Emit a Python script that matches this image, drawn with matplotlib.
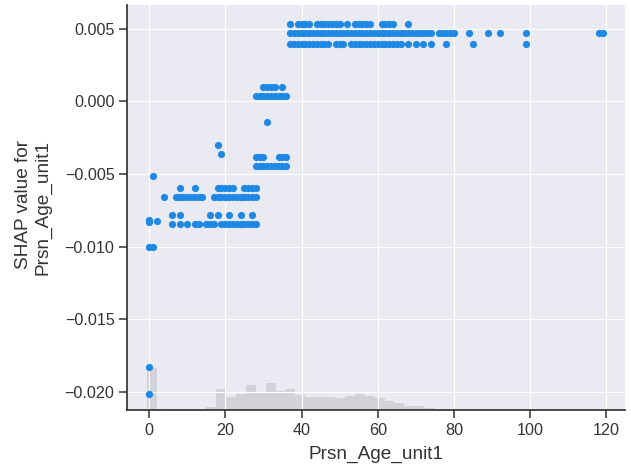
import numpy as np
import matplotlib
matplotlib.use("Agg")
import matplotlib.pyplot as plt
import seaborn as sns

feature = "Prsn_Age_unit1"
dot_color = "#1E88E5"
axis_color = "#333333"

# each row of dots: one shap value and the ages that sit on it
level_shap = [0.00533, 0.00471, 0.00398, 0.00101, 0.00039, -0.00384, -0.00446,
              -0.00598, -0.00660, -0.00781, -0.00843]
level_ages = [
    [37, 39, 40, 41, 42, 44, 45, 46, 47, 48, 49, 50, 52, 54, 55, 56, 57, 58,
     61, 62, 63, 64, 68],
    [37, 38, 39, 40, 41, 42, 43, 44, 45, 46, 47, 48, 49, 50, 51, 52, 53, 54,
     55, 56, 57, 58, 59, 60, 61, 62, 63, 64, 65, 66, 67, 68, 69, 70, 71, 72,
     73, 74, 76, 77, 78, 79, 80, 84, 89, 92, 99, 118, 119],
    [37, 38, 39, 40, 41, 42, 43, 44, 45, 46, 47, 49, 50, 51, 53, 54, 55, 56,
     57, 58, 59, 60, 61, 62, 63, 64, 65, 66, 68, 70, 72, 74, 78, 85, 99],
    [30, 31, 32, 33, 35],
    [28, 29, 30, 31, 32, 33, 34, 35, 36],
    [28, 29, 30, 34, 35, 36],
    [28, 29, 30, 31, 32, 33, 34, 35, 36],
    [8, 12, 18, 19, 20, 21, 22, 25, 26, 27, 28],
    [4, 7, 8, 9, 10, 11, 12, 13, 14, 17, 18, 19, 20, 21, 22, 23, 24, 25, 26,
     27, 28],
    [6, 8, 16, 18, 21, 24, 27],
    [6, 8, 10, 12, 13, 15, 16, 17, 19, 20, 21, 22, 23, 24, 25, 26, 27, 28],
]

# lone points
extra_ages = [0, 0, 2, 0, 1, 1, 18, 19, 31, 0, 0]
extra_shap = [-0.00818, -0.00830, -0.00824, -0.01000, -0.01000, -0.00515,
              -0.00299, -0.00361, -0.00138, -0.01832, -0.02019]

# background histogram of the feature
hist_edges = np.linspace(-0.6, 119.0, 47)
hist_counts = [125, 1, 2, 4, 4, 2, 8, 62, 39, 48, 75, 54, 80, 56, 62, 45, 40,
               40, 40, 35, 41, 49, 42, 35, 26, 20, 12, 12, 5, 3, 2, 0, 1, 0,
               1, 1, 0, 0, 1, 0, 0, 0, 0, 0, 0, 1]
hist_ymax = 1215

xs = []
ys = []
for val, ages in zip(level_shap, level_ages):
    xs += ages
    ys += [val] * len(ages)
xs += extra_ages
ys += extra_shap

sns.set_style("darkgrid")
plt.rcParams['font.family'] = ['Liberation Sans', 'DejaVu Sans']

fig = plt.figure(figsize=(6.31, 4.73), dpi=100)
ax = fig.add_axes([127 / 631, 1 - 410 / 473, 498 / 631, 405 / 473])
ax2 = ax.twinx()

ax2.bar(hist_edges[:-1], hist_counts, width=np.diff(hist_edges), align="edge",
        color="black", alpha=0.1, linewidth=0)
ax2.set_ylim(0, hist_ymax)
ax2.set_yticks([])
ax2.grid(False)
for s in ax2.spines.values():
    s.set_visible(False)
ax2.patch.set_visible(True)
ax2.patch.set_facecolor("#EAEAF2")

ax.set_zorder(ax2.get_zorder() + 1)
ax.patch.set_visible(False)

ax.scatter(xs, ys, s=27, linewidth=0, color=dot_color, zorder=3)

ax.set_xlim(-5.8, 124.9)
ax.set_ylim(-0.02126, 0.00665)
ax.set_xticks([0, 20, 40, 60, 80, 100, 120])
ax.set_yticks([-0.020, -0.015, -0.010, -0.005, 0.000, 0.005])
ax.yaxis.set_major_formatter(matplotlib.ticker.FuncFormatter(
    lambda v, pos: f"{v:.3f}".replace("-", "\u2212")))

ax.spines["right"].set_visible(False)
ax.spines["top"].set_visible(False)
for side in ["left", "bottom"]:
    ax.spines[side].set_color(axis_color)
    ax.spines[side].set_linewidth(1.25)
ax.tick_params(axis="both", which="major", length=5.5, width=1.1, color=axis_color,
               labelcolor=axis_color, labelsize=11.6, direction="out",
               left=True, bottom=True)

ax.set_xlabel(feature, fontsize=13.7, color=axis_color, labelpad=6)
ax.set_ylabel("SHAP value for\n" + feature, fontsize=13.7, color=axis_color,
              multialignment="right")
ax.yaxis.set_label_coords(-0.152, 0.5)

fig.savefig("out.png", dpi=100)
